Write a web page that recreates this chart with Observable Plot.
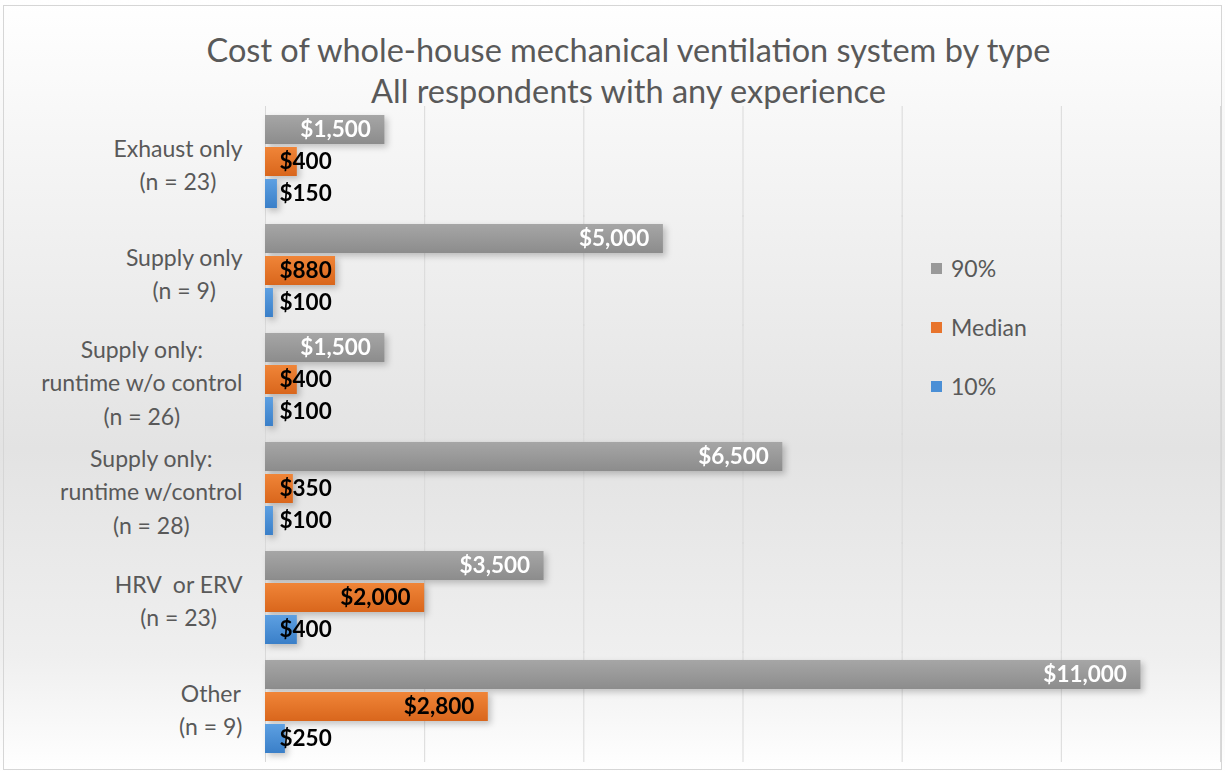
<!DOCTYPE html>
<html><head><meta charset="utf-8">
<script src="https://cdn.jsdelivr.net/npm/d3@7"></script>
<script src="https://cdn.jsdelivr.net/npm/@observablehq/plot@0.6"></script>
<style>
body{margin:0;}
#wrap{position:relative;width:1225px;height:772px;overflow:hidden;background:linear-gradient(to bottom,#ffffff 0%,#f5f5f5 20%,#e3e3e3 58%,#efefef 85%,#ffffff 100%);font-family:Lato,sans-serif;}
#frame{position:absolute;left:3px;top:5px;width:1219px;height:765px;border:1px solid #d6d6d6;box-sizing:border-box;pointer-events:none}
#title{height:100px;box-sizing:border-box;padding-top:29px;line-height:41px;text-align:center;font-size:32.5px;color:#595959;padding-left:32px;white-space:nowrap}
#legend{position:absolute;left:931px;top:255px;font-size:23px;color:#595959}
.item{display:flex;align-items:center;height:26px;margin-bottom:33px}
.sw{width:11px;height:11px;margin-right:9px}
svg text{white-space:pre}
</style></head>
<body><div id="wrap"><div id="title"><div>Cost of whole-house mechanical ventilation system by type</div><div>All respondents with any experience</div></div><div id="chart"></div><div id="legend"></div><div id="frame"></div></div>
<script>
const categories = [
  "Exhaust only\n(n = 23)",
  "Supply only\n(n = 9)",
  "Supply only:\nruntime w/o control\n(n = 26)",
  "Supply only:\nruntime w/control\n(n = 28)",
  "HRV  or ERV\n(n = 23)",
  "Other\n(n = 9)"
];
const series = ["90%", "Median", "10%"];
const p90 = [1500, 5000, 1500, 6500, 3500, 11000];
const median = [400, 880, 400, 350, 2000, 2800];
const p10 = [150, 100, 100, 100, 400, 250];
const seriesValues = [p90, median, p10];
const xMax = 12000;

const swatch = {"90%": "#999999", "Median": "#e8742c", "10%": "#4a8fd6"};
const gradStops = {
  "90%": ["#a6a6a6", "#8c8c8c"],
  "Median": ["#f08538", "#d9661c"],
  "10%": ["#5da0e2", "#3a7fc8"]
};
const labelFill = {"90%": "#ffffff", "Median": "#000000", "10%": "#000000"};
const gradId = s => "grad" + series.indexOf(s);

const rows = [];
categories.forEach((c, i) => series.forEach((s, j) => rows.push({category: c, series: s, value: seriesValues[j][i]})));

const fmt = d3.format("$,");
const xTicks = d3.ticks(0, xMax, 6);

const marks = [
  Plot.ruleX(xTicks, {stroke: "#d9d9d9", strokeWidth: 1, insetTop: -8, insetBottom: -7}),
  Plot.text(categories, {fy: d => d, text: d => d, frameAnchor: "left", textAnchor: "middle",
    fill: "#595959", fontSize: 23, lineHeight: 1.45})
];
series.forEach(s => {
  const sub = rows.filter(d => d.series === s);
  marks.push(Plot.barX(sub, {fy: "category", y: "series", x: "value", fill: `url(#${gradId(s)})`}));
});
series.forEach(s => {
  const sub = rows.filter(d => d.series === s);
  marks.push(Plot.text(sub.filter(d => d.value >= 1000), {fy: "category", y: "series", x: "value",
    text: d => fmt(d.value), textAnchor: "end", dx: -14, fill: labelFill[s], fontWeight: "bold", fontSize: 22.5}));
  marks.push(Plot.text(sub.filter(d => d.value < 1000), {fy: "category", y: "series", x: 0,
    text: d => fmt(d.value), textAnchor: "start", dx: 14, fill: labelFill[s], fontWeight: "bold", fontSize: 22.5}));
});

const chart = Plot.plot({
  width: 1225, height: 672,
  marginTop: 12, marginBottom: 15, marginLeft: 265, marginRight: 5,
  style: {background: "transparent", fontFamily: "Lato, sans-serif", overflow: "visible"},
  x: {domain: [0, xMax], axis: null},
  y: {domain: series, axis: null, paddingInner: 0.08, paddingOuter: 0},
  fy: {domain: categories, axis: null, paddingInner: 0.115, paddingOuter: 0},
  marks
});
document.getElementById("chart").appendChild(chart);

const svg = d3.select(chart);
const defs = svg.insert("defs", ":first-child");
series.forEach(s => {
  const g = defs.append("linearGradient").attr("id", gradId(s)).attr("x1", 0).attr("y1", 0).attr("x2", 0).attr("y2", 1);
  g.append("stop").attr("offset", "0%").attr("stop-color", gradStops[s][0]);
  g.append("stop").attr("offset", "100%").attr("stop-color", gradStops[s][1]);
});
svg.selectAll('g[aria-label="bar"]').style("filter", "drop-shadow(3px 3px 3px rgba(0,0,0,0.22))");

// center each category label's lines within its own block, block right-aligned to the axis
svg.selectAll('g[fill="#595959"] text').each(function() {
  const tspans = Array.from(this.querySelectorAll("tspan"));
  const L = d3.max(tspans, t => t.getComputedTextLength());
  tspans.forEach(t => t.setAttribute("x", -(23 + L / 2)));
});

const legend = d3.select("#legend");
series.forEach(s => {
  const it = legend.append("div").attr("class", "item");
  it.append("div").attr("class", "sw").style("background", swatch[s]);
  it.append("span").text(s);
});
</script>
</body></html>
